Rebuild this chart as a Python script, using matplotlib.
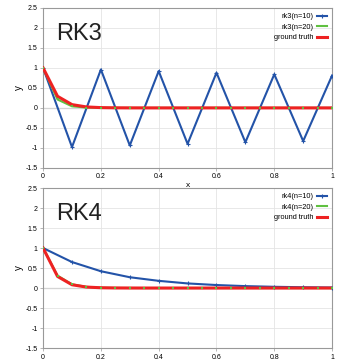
import matplotlib
matplotlib.use('Agg')
import matplotlib.pyplot as plt

plt.rcParams['font.family'] = ['Liberation Sans', 'DejaVu Sans']

# x positions
x10 = [0.0, 0.1, 0.2, 0.3, 0.4, 0.5, 0.6, 0.7, 0.8, 0.9, 1.0]
x20 = [0.0, 0.05, 0.1, 0.15, 0.2, 0.25, 0.3, 0.35, 0.4, 0.45, 0.5,
       0.55, 0.6, 0.65, 0.7, 0.75, 0.8, 0.85, 0.9, 0.95, 1.0]

# RK3
rk3_n10 = [1.0, -0.98, 0.96, -0.94, 0.92, -0.90, 0.88, -0.86, 0.84, -0.83, 0.81]
rk3_n20 = [1.0, 0.21, 0.04, 0.009, 0.002, 0.0, 0.0, 0.0, 0.0, 0.0, 0.0,
           0.0, 0.0, 0.0, 0.0, 0.0, 0.0, 0.0, 0.0, 0.0, 0.0]
# RK4
rk4_n10 = [1.0, 0.65, 0.42, 0.27, 0.18, 0.115, 0.075, 0.048, 0.031, 0.02, 0.013]
rk4_n20 = [1.0, 0.31, 0.094, 0.029, 0.009, 0.003, 0.001, 0.0, 0.0, 0.0, 0.0,
           0.0, 0.0, 0.0, 0.0, 0.0, 0.0, 0.0, 0.0, 0.0, 0.0]
# ground truth
truth = [1.0, 0.29, 0.082, 0.024, 0.007, 0.002, 0.0006, 0.0, 0.0, 0.0, 0.0,
         0.0, 0.0, 0.0, 0.0, 0.0, 0.0, 0.0, 0.0, 0.0, 0.0]

blue = '#2353a8'
green = '#5fc040'
red = '#ee2222'

fig = plt.figure(figsize=(3.42, 3.61), dpi=100)
ax1 = fig.add_axes([0.126, 0.535, 0.845, 0.443])
ax2 = fig.add_axes([0.126, 0.036, 0.845, 0.443])

panels = [(ax1, 'RK3', 'rk3', rk3_n10, rk3_n20), (ax2, 'RK4', 'rk4', rk4_n10, rk4_n20)]
for ax, title, name, y10, y20 in panels:
    ax.axhline(0, color='#888888', lw=0.8, zorder=1)
    ax.plot(x10, y10, color=blue, lw=1.5, marker='+', ms=3, mew=0.8,
            label=name + '(n=10)', zorder=3)
    ax.plot(x20, y20, color=green, lw=1.5, marker='s', ms=1.8, mew=0,
            label=name + '(n=20)', zorder=3)
    ax.plot(x20, truth, color=red, lw=2.2, label='ground truth', zorder=4)
    # green points show on top of the red line
    ax.plot(x20, y20, ls='none', color=green, marker='s', ms=1.8, mew=0, zorder=5)
    ax.set_xlim(0, 1)
    ax.set_ylim(-1.5, 2.5)
    ax.set_xticks([0, 0.2, 0.4, 0.6, 0.8, 1])
    ax.set_xticklabels(['0', '0.2', '0.4', '0.6', '0.8', '1'])
    ax.set_yticks([-1.5, -1, -0.5, 0, 0.5, 1, 1.5, 2, 2.5])
    ax.set_yticklabels(['-1.5', '-1', '-0.5', '0', '0.5', '1', '1.5', '2', '2.5'])
    ax.tick_params(labelsize=5, length=2, width=0.5, color='#999999', pad=2)
    ax.grid(True, color='#e4e4e4', lw=0.6)
    for s in ax.spines.values():
        s.set_color('#999999')
        s.set_linewidth(0.8)
    ax.set_ylabel('y', fontsize=7, labelpad=1)
    ax.text(0.045, 0.8, title, transform=ax.transAxes, fontsize=17, color='#222222')
    leg = ax.legend(loc='upper right', fontsize=5.3, frameon=False, markerfirst=False,
                    handlelength=1.3, handletextpad=0.5, labelspacing=0.45,
                    borderaxespad=0.3)

ax1.set_xlabel('x', fontsize=6, labelpad=1)

fig.savefig('out.png', dpi=100)
